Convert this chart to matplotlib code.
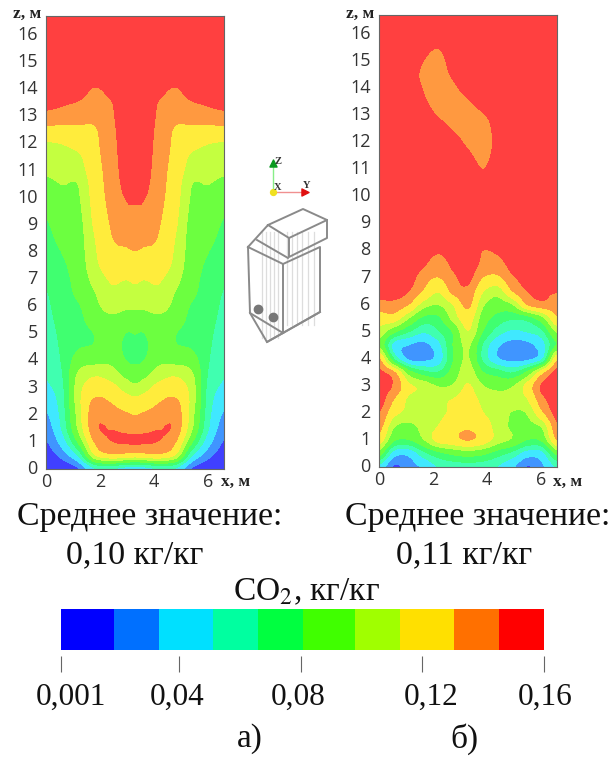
import numpy as np
import matplotlib
matplotlib.use("Agg")
import matplotlib.pyplot as plt
from matplotlib.transforms import ScaledTranslation

W, H = 612, 757

# band edges of the colour scale, kg/kg
levels = [0.001, 0.0185, 0.0334, 0.0512, 0.0657, 0.0806, 0.0978, 0.1127, 0.1305, 0.1451, 0.16]
field_colors = ["#4040ff", "#4095ff", "#40e8ff", "#40ffb0", "#40ff70",
                "#6cff40", "#c4ff40", "#ffec3c", "#ff9940", "#ff4040"]
bar_colors = ["#0000ff", "#0070ff", "#00e0ff", "#00ffa0", "#00ff40",
              "#40ff00", "#a0ff00", "#ffe000", "#ff7000", "#ff0000"]
bar_ticks = [0.001, 0.04, 0.08, 0.12, 0.16]
bar_labels = ["0,001", "0,04", "0,08", "0,12", "0,16"]

# heights of the grid rows, m
z_a = [0, .5, 1, 1.5, 2, 2.5, 3, 3.5, 4, 4.5, 5, 5.5, 6, 6.5, 7, 7.5, 8, 8.5, 9, 9.5,
       10, 10.5, 11, 11.5, 12, 12.5, 13, 13.5, 14, 14.5, 15, 16.7]
z_b = z_a[:-1] + [15.5, 16.7]

x_a = [0, 0.6, 1.2, 1.8, 2.4, 3.0, 3.3]
a_x00 = [3, 10, 17, 24, 31, 39, 48, 52, 55, 57, 59, 61, 63, 65, 67, 70, 73, 76, 79, 82, 88, 94, 100, 105, 111, 126, 140, 150, 155, 156, 157, 158]
a_x06 = [5, 24, 41, 53, 57, 60, 62, 65, 67, 68, 69, 71, 73, 74, 76, 78, 81, 85, 88, 91, 94, 98, 103, 108, 113, 125, 138, 147, 153, 156, 157, 158]
a_x12 = [17, 52, 83, 100, 104, 107, 106, 100, 88, 79, 75, 76, 79, 84, 86, 88, 90, 91, 92, 94, 96, 98, 105, 110, 118, 127, 136, 144, 151, 155, 157, 158]
a_x18 = [48, 110, 131, 141, 140, 133, 120, 110, 92, 82, 81, 88, 93, 97, 103, 108, 110, 112, 115, 117, 119, 121, 123, 125, 127, 129, 134, 140, 144, 152, 155, 158]
a_x24 = [51, 125, 144, 144.5, 137, 129, 118, 105, 94, 90, 90, 94, 103, 110, 114, 120, 126, 129, 131, 133, 135, 136, 137, 138, 139, 140, 142, 144, 149, 153, 155, 158]
a_x30 = [42, 122, 146.5, 141, 132, 120, 106, 92, 80, 76, 80, 90, 100, 107, 113, 120, 128, 134, 138, 142, 146, 149, 151, 152, 153, 154, 155, 155, 156, 156, 157, 158]
a_x33 = [40, 120, 147, 140, 130, 118, 102, 88, 78, 75, 81, 90, 100, 108, 115, 122, 130, 135, 139, 143, 147, 150, 152, 153, 154, 154, 155, 155, 156, 156, 157, 158]

# panel b, CO2 in g/kg, one row per height in z_b
x_b = [0, .55, 1.1, 1.65, 2.2, 2.75, 3.3, 3.85, 4.4, 4.95, 5.5, 6.05, 6.6]
b_rows = [
    [45, 16, 26, 36, 52, 56, 58, 56, 50, 36, 17, 30, 52],
    [88, 42, 38, 60, 75, 84, 88, 84, 72, 60, 42, 45, 85],
    [122, 83, 80, 96, 118, 124, 131, 122, 105, 95, 80, 84, 130],
    [137, 99, 93, 103, 113, 124, 128, 121, 106, 95, 92, 100, 142],
    [145, 118, 108, 106, 108, 117, 126, 113, 105, 97, 99, 127, 150],
    [152, 130, 110, 108, 109, 113, 120, 108, 104, 103, 112, 140, 153],
    [150, 143, 116, 108, 96, 99, 114, 98, 92, 96, 118, 147, 153],
    [148, 132, 88, 70, 66, 87, 106, 81, 72, 64, 83, 122, 150],
    [132, 65, 30, 28, 40, 80, 99, 62, 35, 27, 29, 48, 125],
    [95, 45, 33, 28, 45, 81, 100, 64, 36, 26, 28, 44, 82],
    [108, 84, 66, 53, 64, 82, 112, 80, 58, 48, 52, 62, 100],
    [120, 122, 98, 76, 77, 103, 120, 90, 74, 68, 72, 92, 128],
    [140, 140, 130, 105, 98, 113, 134, 100, 90, 97, 130, 140, 138],
    [150, 152, 145, 128, 114, 135, 141, 114, 104, 130, 145, 147, 146],
    [155, 155, 152, 137, 130, 142, 149, 130, 127, 143, 150, 154, 155],
    [155, 155, 155, 147, 138, 148, 152, 142, 140, 150, 155, 155, 155],
    [155, 155, 155, 152, 147, 152, 153, 145, 147, 152, 155, 155, 155],
    [155, 155, 155, 155, 153, 154, 154, 152, 153, 154, 155, 155, 155],
    [155, 155, 155, 155, 155, 155, 155, 155, 155, 155, 155, 155, 155],
    [155, 155, 155, 155, 155, 155, 155, 155, 155, 155, 155, 155, 155],
    [155, 155, 155, 155, 155, 155, 153, 151, 153, 155, 155, 155, 155],
    [155, 155, 155, 155, 155, 155, 152, 149, 152, 155, 155, 155, 155],
    [155, 155, 155, 155, 155, 155, 151, 145, 151, 155, 155, 155, 155],
    [155, 155, 155, 155, 155, 152, 147, 142, 149, 155, 155, 155, 155],
    [155, 155, 155, 155, 153, 149, 143, 140, 148, 152, 155, 155, 155],
    [155, 155, 155, 153, 150, 144, 140, 140, 149, 153, 155, 155, 155],
    [155, 155, 153, 150, 144, 140, 139, 144, 150, 155, 155, 155, 155],
    [155, 155, 152, 146.5, 141, 140, 144, 150, 155, 155, 155, 155, 155],
    [155, 153, 150, 144.5, 140, 143, 149, 152, 155, 155, 155, 155, 155],
    [155, 153, 149, 143.5, 141, 146.5, 152, 155, 155, 155, 155, 155, 155],
    [155, 155, 152, 145, 142, 149, 153, 155, 155, 155, 155, 155, 155],
    [155, 155, 155, 149, 145.5, 152, 155, 155, 155, 155, 155, 155, 155],
    [155, 155, 155, 155, 155, 155, 155, 155, 155, 155, 155, 155, 155],
]

half = np.column_stack([a_x00, a_x06, a_x12, a_x18, a_x24, a_x30, a_x33])
co2_a = np.hstack([half, half[:, -2::-1]]) / 1000
xa_full = np.array(x_a + [6.6 - v for v in x_a[-2::-1]])
co2_b = np.array(b_rows) / 1000


def box(left, top, right, bottom):
    # pixel box to figure fractions
    return [left / W, 1 - bottom / H, (right - left) / W, (bottom - top) / H]


def smooth_axis(vals, n=8):
    # Catmull-Rom along the first axis, only to round off the contour lines
    m = vals.shape[0]
    pos = np.linspace(0, m - 1, (m - 1) * n + 1)
    i = np.minimum(pos.astype(int), m - 2)
    t = (pos - i)[:, None]
    p0, p1 = vals[np.maximum(i - 1, 0)], vals[i]
    p2, p3 = vals[i + 1], vals[np.minimum(i + 2, m - 1)]
    return 0.5 * (2 * p1 + (p2 - p0) * t + (2 * p0 - 5 * p1 + 4 * p2 - p3) * t ** 2
                  + (3 * p1 - p0 - 3 * p2 + p3) * t ** 3), pos


def refine(xs, zs, vals):
    fine, pz = smooth_axis(np.asarray(vals))
    fine, px = smooth_axis(fine.T)
    fz = np.interp(pz, np.arange(len(zs)), zs)
    fx = np.interp(px, np.arange(len(xs)), xs)
    return fx, fz, np.clip(fine.T, levels[0] + 1e-4, levels[-1] - 1e-4)


fig = plt.figure(figsize=(W / 100, H / 100), dpi=100)
serif = "Liberation Serif"
ink = "#111111"

panels = [(box(46, 16, 224, 469), xa_full, z_a, co2_a),
          (box(379, 15, 557, 467), x_b, z_b, co2_b)]
for rect, xs, zs, vals in panels:
    ax = fig.add_axes(rect)
    ax.contourf(*refine(xs, zs, vals), levels=levels, colors=field_colors)
    ax.set_xlim(0, 6.6)
    ax.set_ylim(0, 16.7)
    ax.set_xticks([0, 2, 4, 6])
    ax.set_yticks(range(0, 17))
    ax.tick_params(length=0, labelsize=13, pad=6, labelcolor="#333333", labelfontfamily="Open Sans")
    ax.tick_params(axis="x", pad=3)
    shift = ScaledTranslation(0, 2 / 100, fig.dpi_scale_trans)
    for lab in ax.get_yticklabels():
        lab.set_transform(lab.get_transform() + shift)
    for sp in ax.spines.values():
        sp.set_color("#666666")
        sp.set_linewidth(0.8)

# overlay in pixel coordinates for the captions and the small furnace sketch
ov = fig.add_axes([0, 0, 1, 1])
ov.set_xlim(0, W)
ov.set_ylim(H, 0)
ov.axis("off")
ov.patch.set_alpha(0)

for lx, ly, s in [(27, 14, "z, м"), (360, 14, "z, м"), (236, 482, "x, м"), (568, 482, "x, м")]:
    ov.text(lx, ly, s, family=serif, fontsize=12.5, fontweight="bold", ha="center", va="center", color="#222222")

ov.text(149.5, 517, "Среднее значение:", family=serif, fontsize=24.4, ha="center", va="center", color=ink)
ov.text(477.5, 517, "Среднее значение:", family=serif, fontsize=24.4, ha="center", va="center", color=ink)
ov.text(135, 555, "0,10 кг/кг", family=serif, fontsize=24.4, ha="center", va="center", color=ink)
ov.text(464, 555, "0,11 кг/кг", family=serif, fontsize=24.4, ha="center", va="center", color=ink)
ov.text(306, 592, "CO$_2$, кг/кг", family=serif, fontsize=24, ha="center", va="center", color=ink,
        math_fontfamily="stix")
ov.text(250, 739, "а)", family=serif, fontsize=24, ha="center", va="center", color=ink)
ov.text(464, 739, "б)", family=serif, fontsize=24, ha="center", va="center", color=ink)

# furnace sketch
gr = "#8a8a8a"
for vx in [262, 266, 270, 274, 278, 287, 292, 297, 302, 308, 314]:
    ov.plot([vx, vx], [232, 338 if vx < 285 else 325], color="#dddddd", lw=0.9)
for xs, ys in [
    ([248, 250, 283, 283, 248], [247, 313, 333, 264, 247]),
    ([283, 320, 320, 283], [264, 247, 312, 333]),
    ([248, 268, 289, 327, 303, 268], [247, 225, 238, 220, 209, 225]),
    ([257, 288], [240, 258]),
    ([289, 289, 327, 327], [238, 257, 238, 220]),
    ([250, 267, 283], [313, 342, 333]),
    ([267, 320], [342, 312]),
]:
    ov.plot(xs, ys, color=gr, lw=1.4, solid_joinstyle="round")
ov.scatter([258, 273], [309, 317], s=36, color="#777777", zorder=3)

# axes triad
ov.plot([273, 273], [192, 165], color="#88ee88", lw=1)
ov.plot([273, 304], [192, 192], color="#f09090", lw=1)
ov.scatter([273], [163], marker="^", s=26, color="#0a9a20", zorder=3)
ov.scatter([305], [192], marker=">", s=26, color="#e01010", zorder=3)
ov.scatter([273], [192], s=18, color="#f0e020", zorder=3)
ov.text(278, 162, "Z", family=serif, fontsize=7.5, fontweight="bold", ha="center", va="center", color="#333333")
ov.text(278, 187, "X", family=serif, fontsize=7.5, fontweight="bold", ha="center", va="center", color="#333333")
ov.text(307, 185, "Y", family=serif, fontsize=7.5, fontweight="bold", ha="center", va="center", color="#333333")

# colour scale drawn from the band edges
cb = fig.add_axes(box(61, 609, 544, 650))
cb.pcolormesh(levels, [0, 1], np.array([levels[:-1]]), cmap=matplotlib.colors.ListedColormap(bar_colors),
              norm=matplotlib.colors.BoundaryNorm(levels, 10))
cb.set_xlim(levels[0], levels[-1])
cb.axis("off")

tk = fig.add_axes(box(61, 656, 544, 672))
tk.set_xlim(levels[0], levels[-1])
tk.set_ylim(0, 1)
tk.axis("off")
tk.vlines(bar_ticks, 0, 1, color="#666666", lw=0.8, clip_on=False)
for lab, lx in zip(bar_labels, [71, 177, 298, 431, 545]):
    ov.text(lx, 697, lab, family=serif, fontsize=22.5, ha="center", va="center", color=ink)

fig.savefig("out.png", dpi=100)
